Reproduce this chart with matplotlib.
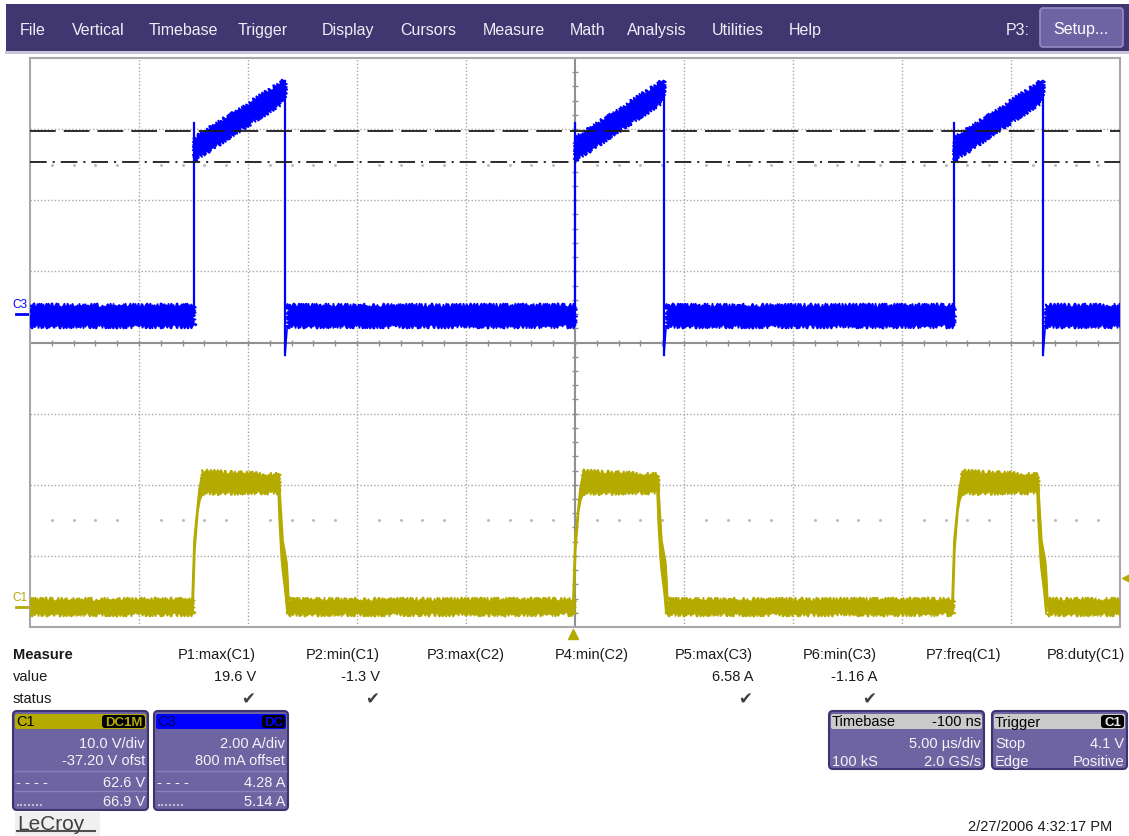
import numpy as np
import matplotlib
matplotlib.use('Agg')
import matplotlib.pyplot as plt
from matplotlib.patches import Rectangle, FancyBboxPatch, Polygon
from matplotlib.transforms import blended_transform_factory

plt.rcParams['font.family'] = ['Liberation Sans', 'DejaVu Sans']
plt.rcParams['lines.scale_dashes'] = False

# scope setup, as shown on screen
t_div = 5.0                      # us/div
t_delay = -0.1                   # us
c1_vdiv, c1_ofst = 10.0, -37.2   # V/div, V offset
c3_adiv, c3_ofst = 2.0, 0.8      # A/div, A offset

# edge times (us)
c1_rise = [-17.47, 0.0, 17.39]
c1_fall = [-13.52, 3.86, 21.29]
c3_rise = [-17.38, 0.10, 17.49]
c3_fall = [-13.20, 4.18, 21.57]

# C1 levels (V): noise band [low, high]
c1_base = [-1.0, 1.1]
c1_top_start = [16.0, 19.1]
c1_top_end = [16.1, 18.6]
# C1 edge shapes: time after edge start (us) and volts
c1_rise_l_dt = [0.0, 0.09, 0.23, 0.32, 0.41, 0.50]
c1_rise_l_v = [1.1, 9.5, 13.8, 16.6, 18.0, 19.2]
c1_rise_r_dt = [0.05, 0.14, 0.28, 0.37, 0.50]
c1_rise_r_v = [-1.0, 8.0, 13.5, 15.0, 16.0]
c1_fall_r_dt = [0.05, 0.14, 0.23, 0.41, 0.46, 0.50]
c1_fall_r_v = [18.5, 14.0, 9.4, 6.3, 3.9, 1.1]
c1_fall_l_dt = [0.0, 0.05, 0.14, 0.18, 0.32, 0.41]
c1_fall_l_v = [16.2, 12.0, 7.0, 5.5, 2.0, -1.0]

# C3 levels (A)
c3_base = [-0.35, 0.25]
c3_top_start = [4.33, 4.95]
c3_top_end = [5.99, 6.58]
c3_spike = 5.37
c3_under = -1.16

# horizontal cursors (C1 volts) and trigger level
cur_dash = 66.9
cur_dashdot = 62.6
trig_level = 4.1

menu_items = ['File', 'Vertical', 'Timebase', 'Trigger', 'Display', 'Cursors',
              'Measure', 'Math', 'Analysis', 'Utilities', 'Help']
menu_x = [20, 72, 149, 238, 322, 400, 483, 570, 627, 712, 789]

meas_names = ['P1:max(C1)', 'P2:min(C1)', 'P3:max(C2)', 'P4:min(C2)',
              'P5:max(C3)', 'P6:min(C3)', 'P7:freq(C1)', 'P8:duty(C1)']
meas_values = ['19.6 V', '-1.3 V', '', '', '6.58 A', '-1.16 A', '', '']
meas_ok = [True, True, False, False, True, True, False, False]
meas_right = [256, 380, 505, 629, 753, 877, 1001, 1125]

blue = '#0000ff'
yellow = '#b4aa00'
purple = '#403670'
body = '#6e64a2'
gridc = '#a8a8a8'
axc = '#909090'

W, H = 1129, 837
fig = plt.figure(figsize=(W / 100, H / 100), dpi=100)
ui = fig.add_axes([0, 0, 1, 1])
ui.set_xlim(0, W)
ui.set_ylim(H, 0)
ui.axis('off')

# menu bar
ui.add_patch(Rectangle((6, 5), W - 6, 47, fc=purple, ec='none'))
ui.plot([6, W], [53, 53], color='#c4c0dc', lw=2)
for name, x in zip(menu_items, menu_x):
    ui.text(x, 30, name, color='#eeeef6', fontsize=11.5, va='center')
ui.text(1006, 30, 'P3:', color='#eeeef6', fontsize=11.5, va='center')
ui.add_patch(FancyBboxPatch((1040, 9), 83, 39, boxstyle='round,pad=0,rounding_size=3',
                            fc='#6e64a3', ec='#958cc4', lw=1.2))
ui.text(1081, 29, 'Setup...', ha='center', va='center', color='white', fontsize=11.5)

# scope grid
gx0, gy0, gx1, gy1 = 30, 59, 1120, 628
ax = fig.add_axes([gx0 / W, 1 - gy1 / H, (gx1 - gx0) / W, (gy1 - gy0) / H])
tc = -t_delay
xmin, xmax = tc - 5 * t_div, tc + 5 * t_div
ax.set_xlim(xmin, xmax)
ax.set_ylim(-4, 4)
ax.set_xticks([])
ax.set_yticks([])
for s in ax.spines.values():
    s.set_color(gridc)
    s.set_linewidth(1.5)
px = (xmax - xmin) / (gx1 - gx0)

for k in range(1, 10):
    if k != 5:
        ax.axvline(xmin + k * t_div, color=gridc, lw=1, ls=(0, (1, 1.5)), zorder=1)
for j in range(-3, 4):
    if j != 0:
        ax.axhline(j, color=gridc, lw=1, ls=(0, (1, 1.5)), zorder=1)
ax.axvline(tc, color=axc, lw=1.5, zorder=1)
ax.axhline(0, color=axc, lw=1.5, zorder=1)
minor_t = xmin + np.arange(1, 50) * t_div / 5
ax.plot(minor_t, np.zeros_like(minor_t), ls='none', marker='|', ms=4.5, mew=1, color=axc, zorder=1)
minor_y = np.arange(-19, 20) * 0.2
ax.plot(np.full_like(minor_y, tc), minor_y, ls='none', marker='_', ms=4.5, mew=1, color=axc, zorder=1)
dot_t = np.array([t for i, t in enumerate(minor_t) if (i + 1) % 5 != 0])
for yy in (2.5, -2.5):
    ax.plot(dot_t, np.full_like(dot_t, yy), ls='none', marker='o', ms=1.1, color='#b8b8b8', zorder=1)


def c1d(v):
    return (np.asarray(v, float) + c1_ofst) / c1_vdiv


def c3d(a):
    return (np.asarray(a, float) + c3_ofst) / c3_adiv


def band(t0, t1, lo0, hi0, lo1, hi1, color):
    p = Polygon([(t0, lo0), (t1, lo1), (t1, hi1), (t0, hi0)], closed=True,
                fc=color, ec=color, lw=1, zorder=3)
    p.set_sketch_params(2.4, 3.0, 2.5)
    ax.add_patch(p)


def edge(pts, color):
    ax.add_patch(Polygon(pts, closed=True, fc=color, ec=color, lw=1, zorder=3))


# C1 trace
lo, hi = c1d(c1_base)
starts = [xmin] + [f + c1_fall_r_dt[-1] - 0.04 for f in c1_fall]
ends = [r + 0.05 for r in c1_rise] + [xmax]
for s, e in zip(starts, ends):
    band(s, e, lo, hi, lo, hi, yellow)
for r, f in zip(c1_rise, c1_fall):
    band(r + 0.45, f + 0.03, *c1d(c1_top_start), *c1d(c1_top_end), yellow)
    up = [(r + d, y) for d, y in zip(c1_rise_l_dt, c1d(c1_rise_l_v))]
    dn = [(r + d, y) for d, y in zip(c1_rise_r_dt, c1d(c1_rise_r_v))]
    edge(up + dn[::-1], yellow)
    up = [(f + d, y) for d, y in zip(c1_fall_r_dt, c1d(c1_fall_r_v))]
    dn = [(f + d, y) for d, y in zip(c1_fall_l_dt, c1d(c1_fall_l_v))]
    edge(up + dn[::-1], yellow)

# C3 trace
lo, hi = c3d(c3_base)
starts = [xmin] + [f + 0.08 for f in c3_fall]
ends = list(c3_rise) + [xmax]
for s, e in zip(starts, ends):
    band(s, e, lo, hi, lo, hi, blue)
for r, f in zip(c3_rise, c3_fall):
    band(r + 0.03, f, *c3d(c3_top_start), *c3d(c3_top_end), blue)
    ax.plot([r, r], c3d([0.0, c3_spike]), color=blue, lw=1.6, zorder=3)
    ax.plot([f, f], c3d([c3_top_end[1] - 0.2, c3_under]), color=blue, lw=1.6, zorder=3)
    ax.plot([f, f + 0.1], [c3d(c3_under), lo], color=blue, lw=1.2, zorder=3)

# cursors
ax.axhline(c1d(cur_dash), color='#1a1a1a', lw=1.3, dashes=(18.5, 5.8), zorder=4)
ax.axhline(c1d(cur_dashdot), color='#1a1a1a', lw=1.3, dashes=(12, 4.3, 1.5, 4.3), zorder=4)

# channel and trigger markers
tr = blended_transform_factory(ax.transAxes, ax.transData)
for lbl, lvl, col in (('C3', c3d(0), blue), ('C1', c1d(0), yellow)):
    ax.plot([-14 / 1090, -1 / 1090], [lvl, lvl], color=col, lw=2, transform=tr, clip_on=False)
    ax.annotate(lbl, xy=(0, lvl), xycoords=tr, xytext=(-18, 4), textcoords='offset pixels',
                fontsize=8.5, color=col, va='bottom', ha='left', annotation_clip=False)
ax.plot([xmax + 6 * px], [c1d(trig_level)], marker='<', ms=6, color=yellow, clip_on=False, zorder=5)
ax.plot([0.0], [-4 - 7 * 8 / (gy1 - gy0)], marker='^', ms=7, color=yellow, clip_on=False, zorder=5)

# measurement table
txt = '#1a1a1a'
ui.text(13, 655, 'Measure', fontsize=10.5, fontweight='bold', va='center', color=txt)
ui.text(13, 677, 'value', fontsize=10.5, va='center', color=txt)
ui.text(13, 699, 'status', fontsize=10.5, va='center', color=txt)
for name, val, ok, xr in zip(meas_names, meas_values, meas_ok, meas_right):
    ui.text(xr, 655, name, fontsize=10.5, va='center', ha='right', color=txt)
    ui.text(xr, 677, val, fontsize=10.5, va='center', ha='right', color=txt)
    if ok:
        ui.text(xr - 1, 699, '\u2714', fontsize=12, va='center', ha='right', color='#404040',
                family='DejaVu Sans')


def scope_box(x0, y0, x1, y1, head_fc, head_txt, head_col, badge, badge_col, badge_x0,
              rows, seps=()):
    ui.add_patch(FancyBboxPatch((x0, y0), x1 - x0, y1 - y0,
                                boxstyle='round,pad=0,rounding_size=4',
                                fc=body, ec='#3c3470', lw=1.5))
    ui.add_patch(FancyBboxPatch((x0 + 2, y0 + 3), x1 - x0 - 4, 15,
                                boxstyle='round,pad=0,rounding_size=2', fc=head_fc, ec='none'))
    ui.text(x0 + 3, y0 + 10.5, head_txt[0], fontsize=10.5, va='center', color=head_col)
    if badge:
        ui.add_patch(FancyBboxPatch((badge_x0, y0 + 4), x1 - 3 - badge_x0, 13,
                                    boxstyle='round,pad=0,rounding_size=3', fc='black', ec='none'))
        ui.text((badge_x0 + x1 - 3) / 2, y0 + 10.5, badge, fontsize=9.5, va='center',
                ha='center', color=badge_col, fontweight='bold')
    else:
        ui.text(x1 - 3, y0 + 10.5, head_txt[1], fontsize=10.5, va='center', ha='right',
                color=head_col)
    for ys in seps:
        ui.plot([x0 + 2, x1 - 2], [ys, ys], color='#8a80bc', lw=1)
    for y, left, right in rows:
        if left:
            ui.text(x0 + 3, y, left, fontsize=10.5, va='center', color='#f4f4f8')
        if right:
            ui.text(x1 - 3, y, right, fontsize=10.5, va='center', ha='right', color='#f4f4f8')


scope_box(13, 712, 148, 811, yellow, ('C1', ''), 'black', 'DC1M', yellow, 102,
          [(744, '', '10.0 V/div'), (761, '', '-37.20 V ofst'),
           (783, '- - - -', '62.6 V'), (802, '.......', '66.9 V')], seps=(772, 792))
scope_box(154, 712, 288, 811, blue, ('C3', ''), '#000060', 'DC', blue, 262,
          [(744, '', '2.00 A/div'), (761, '', '800 mA offset'),
           (783, '- - - -', '4.28 A'), (802, '.......', '5.14 A')], seps=(772, 792))
scope_box(829, 712, 984, 770, '#cacaca', ('Timebase', '-100 ns'), 'black', None, None, 0,
          [(744, '', '5.00 \u00b5s/div'), (762, '100 kS', '2.0 GS/s')])
scope_box(992, 712, 1127, 770, '#cacaca', ('Trigger', ''), 'black', 'C1', '#e8e8e8', 1101,
          [(744, 'Stop', '4.1 V'), (762, 'Edge', 'Positive')])

# logo and timestamp
ui.add_patch(Rectangle((15, 813), 85, 24, fc='#f0f0f0', ec='none'))
ui.text(17, 825, 'LeCroy', fontsize=15, va='center', color='#404040')
ui.plot([17, 95], [832, 832], color='#505050', lw=1.5)
ui.text(1112, 827, '2/27/2006 4:32:17 PM', fontsize=10.5, va='center', ha='right', color=txt)

fig.savefig('out.png', dpi=100, facecolor='white')
